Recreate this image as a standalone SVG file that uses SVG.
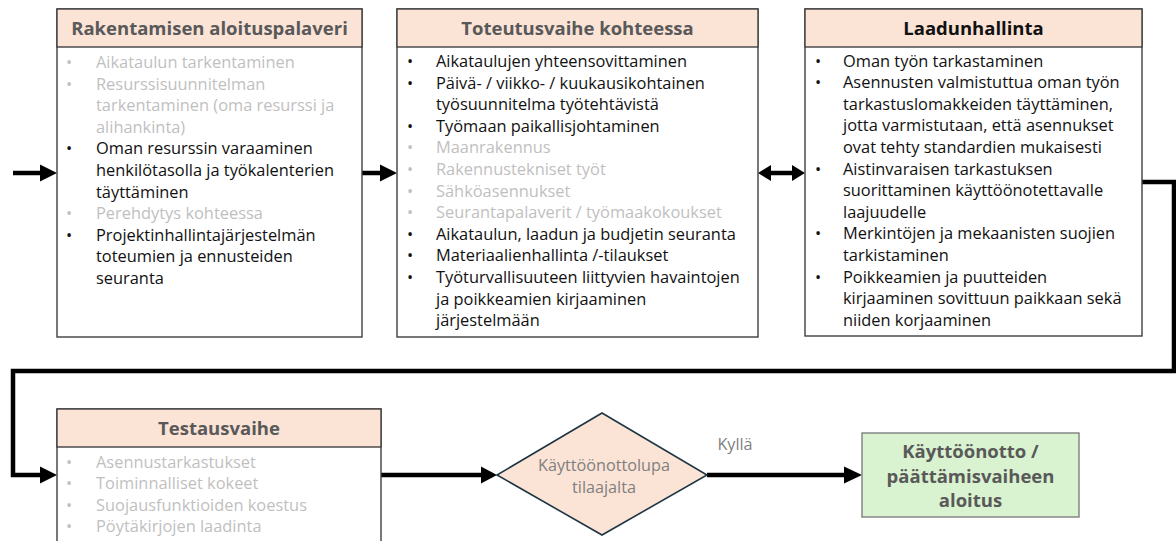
<svg xmlns="http://www.w3.org/2000/svg" width="1176" height="541" viewBox="0 0 1176 541">
  <style>
    .box { fill: #ffffff; stroke: #3f3f3f; stroke-width: 1.4; }
    .hdr { fill: #fbe3d6; stroke: #3f3f3f; stroke-width: 1.4; }
    .title { font-family: "Open Sans", "Liberation Sans", sans-serif; font-weight: bold; font-size: 18.5px; fill: #595959; text-anchor: middle; }
    .body { font-family: "Open Sans", "Liberation Sans", sans-serif; font-size: 16.4px; }
    .on { fill: #111111; }
    .off { fill: #bfbfbf; }
    .wire { fill: none; stroke: #000000; stroke-width: 4.5; stroke-linejoin: miter; }
    .head { fill: #000000; }
    .small { font-family: "Open Sans", "Liberation Sans", sans-serif; font-size: 16.2px; fill: #7f7f7f; text-anchor: middle; }
  </style>

  <!-- connectors -->
  <g id="connectors">
    <!-- entry arrow -->
    <line class="wire" x1="13" y1="173" x2="42" y2="173"/>
    <polygon class="head" points="40,164.5 57,173 40,181.5"/>
    <!-- kick-off meeting to site phase -->
    <line class="wire" x1="362" y1="173" x2="382" y2="173"/>
    <polygon class="head" points="380,164.5 397,173 380,181.5"/>
    <!-- site phase <-> quality -->
    <line class="wire" x1="768" y1="173" x2="795" y2="173"/>
    <polygon class="head" points="771,165 758,173 771,181"/>
    <polygon class="head" points="792,165 805,173 792,181"/>
    <!-- quality loop back to testing -->
    <polyline class="wire" points="1142,182 1174,182 1174,371 13,371 13,475 42,475"/>
    <polygon class="head" points="40,466.5 57,475 40,483.5"/>
    <!-- testing to decision -->
    <line class="wire" x1="381" y1="475" x2="483" y2="475"/>
    <polygon class="head" points="481,466.5 497,475 481,483.5"/>
    <!-- decision to handover -->
    <line class="wire" x1="707" y1="475" x2="846" y2="475"/>
    <polygon class="head" points="844,466.5 862,475 844,483.5"/>
    <text class="small" x="735" y="450">Kyllä</text>
  </g>

  <!-- Rakentamisen aloituspalaveri -->
  <g id="node-aloituspalaveri">
    <rect class="box" x="57" y="9" width="305" height="328"/>
    <rect class="hdr" x="57" y="9" width="305" height="38"/>
    <text class="title" x="209.5" y="34.5">Rakentamisen aloituspalaveri</text>
    <g class="body">
      <text class="off" x="66" y="68">•</text><text class="off" x="96" y="68">Aikataulun tarkentaminen</text>
      <text class="off" x="66" y="89.6">•</text><text class="off" x="96" y="89.6">Resurssisuunnitelman</text>
      <text class="off" x="96" y="111.2">tarkentaminen (oma resurssi ja</text>
      <text class="off" x="96" y="132.8">alihankinta)</text>
      <text class="on" x="66" y="154.4">•</text><text class="on" x="96" y="154.4">Oman resurssin varaaminen</text>
      <text class="on" x="96" y="176">henkilötasolla ja työkalenterien</text>
      <text class="on" x="96" y="197.6">täyttäminen</text>
      <text class="off" x="66" y="219.2">•</text><text class="off" x="96" y="219.2">Perehdytys kohteessa</text>
      <text class="on" x="66" y="240.8">•</text><text class="on" x="96" y="240.8">Projektinhallintajärjestelmän</text>
      <text class="on" x="96" y="262.4">toteumien ja ennusteiden</text>
      <text class="on" x="96" y="284">seuranta</text>
    </g>
  </g>

  <!-- Toteutusvaihe kohteessa -->
  <g id="node-toteutusvaihe">
    <rect class="box" x="397" y="9" width="361" height="328"/>
    <rect class="hdr" x="397" y="9" width="361" height="38"/>
    <text class="title" x="577.5" y="34.5">Toteutusvaihe kohteessa</text>
    <g class="body">
      <text class="on" x="407" y="67">•</text><text class="on" x="436" y="67">Aikataulujen yhteensovittaminen</text>
      <text class="on" x="407" y="88.6">•</text><text class="on" x="436" y="88.6">Päivä- / viikko- / kuukausikohtainen</text>
      <text class="on" x="436" y="110.2">työsuunnitelma työtehtävistä</text>
      <text class="on" x="407" y="131.8">•</text><text class="on" x="436" y="131.8">Työmaan paikallisjohtaminen</text>
      <text class="off" x="407" y="153.4">•</text><text class="off" x="436" y="153.4">Maanrakennus</text>
      <text class="off" x="407" y="175">•</text><text class="off" x="436" y="175">Rakennustekniset työt</text>
      <text class="off" x="407" y="196.6">•</text><text class="off" x="436" y="196.6">Sähköasennukset</text>
      <text class="off" x="407" y="218.2">•</text><text class="off" x="436" y="218.2">Seurantapalaverit / työmaakokoukset</text>
      <text class="on" x="407" y="239.8">•</text><text class="on" x="436" y="239.8">Aikataulun, laadun ja budjetin seuranta</text>
      <text class="on" x="407" y="261.4">•</text><text class="on" x="436" y="261.4">Materiaalienhallinta /-tilaukset</text>
      <text class="on" x="407" y="283">•</text><text class="on" x="436" y="283">Työturvallisuuteen liittyvien havaintojen</text>
      <text class="on" x="436" y="304.6">ja poikkeamien kirjaaminen</text>
      <text class="on" x="436" y="326.2">järjestelmään</text>
    </g>
  </g>

  <!-- Laadunhallinta -->
  <g id="node-laadunhallinta">
    <rect class="box" x="805" y="9" width="337" height="327"/>
    <rect class="hdr" x="805" y="9" width="337" height="38"/>
    <text class="title" x="973.5" y="34.5" style="fill:#111111">Laadunhallinta</text>
    <g class="body">
      <text class="on" x="815" y="66.5">•</text><text class="on" x="843" y="66.5">Oman työn tarkastaminen</text>
      <text class="on" x="815" y="88.1">•</text><text class="on" x="843" y="88.1">Asennusten valmistuttua oman työn</text>
      <text class="on" x="843" y="109.7">tarkastuslomakkeiden täyttäminen,</text>
      <text class="on" x="843" y="131.3">jotta varmistutaan, että asennukset</text>
      <text class="on" x="843" y="152.9">ovat tehty standardien mukaisesti</text>
      <text class="on" x="815" y="174.5">•</text><text class="on" x="843" y="174.5">Aistinvaraisen tarkastuksen</text>
      <text class="on" x="843" y="196.1">suorittaminen käyttöönotettavalle</text>
      <text class="on" x="843" y="217.7">laajuudelle</text>
      <text class="on" x="815" y="239.3">•</text><text class="on" x="843" y="239.3">Merkintöjen ja mekaanisten suojien</text>
      <text class="on" x="843" y="260.9">tarkistaminen</text>
      <text class="on" x="815" y="282.5">•</text><text class="on" x="843" y="282.5">Poikkeamien ja puutteiden</text>
      <text class="on" x="843" y="304.1">kirjaaminen sovittuun paikkaan sekä</text>
      <text class="on" x="843" y="325.7">niiden korjaaminen</text>
    </g>
  </g>

  <!-- Testausvaihe -->
  <g id="node-testausvaihe">
    <rect class="box" x="57" y="409" width="324" height="140"/>
    <rect class="hdr" x="57" y="409" width="324" height="38"/>
    <text class="title" x="219" y="434.5">Testausvaihe</text>
    <g class="body">
      <text class="off" x="66" y="467.5">•</text><text class="off" x="96" y="467.5">Asennustarkastukset</text>
      <text class="off" x="66" y="489.1">•</text><text class="off" x="96" y="489.1">Toiminnalliset kokeet</text>
      <text class="off" x="66" y="510.7">•</text><text class="off" x="96" y="510.7">Suojausfunktioiden koestus</text>
      <text class="off" x="66" y="532.3">•</text><text class="off" x="96" y="532.3">Pöytäkirjojen laadinta</text>
    </g>
  </g>

  <!-- Käyttöönottolupa tilaajalta (decision) -->
  <g id="node-kayttoonottolupa">
    <polygon points="602,413 707,475 602,535 497,475" fill="#fbe3d6" stroke="#1e3644" stroke-width="1.6"/>
    <text class="small" x="604" y="471">Käyttöönottolupa</text>
    <text class="small" x="604" y="493">tilaajalta</text>
  </g>

  <!-- Käyttöönotto / päättämisvaiheen aloitus -->
  <g id="node-kayttoonotto">
    <rect x="862" y="433" width="217" height="84" fill="#d9f2d0" stroke="#7f7f7f" stroke-width="1.4"/>
    <text class="title" x="970.5" y="458">Käyttöönotto /</text>
    <text class="title" x="970.5" y="482.5">päättämisvaiheen</text>
    <text class="title" x="970.5" y="507">aloitus</text>
  </g>
</svg>
